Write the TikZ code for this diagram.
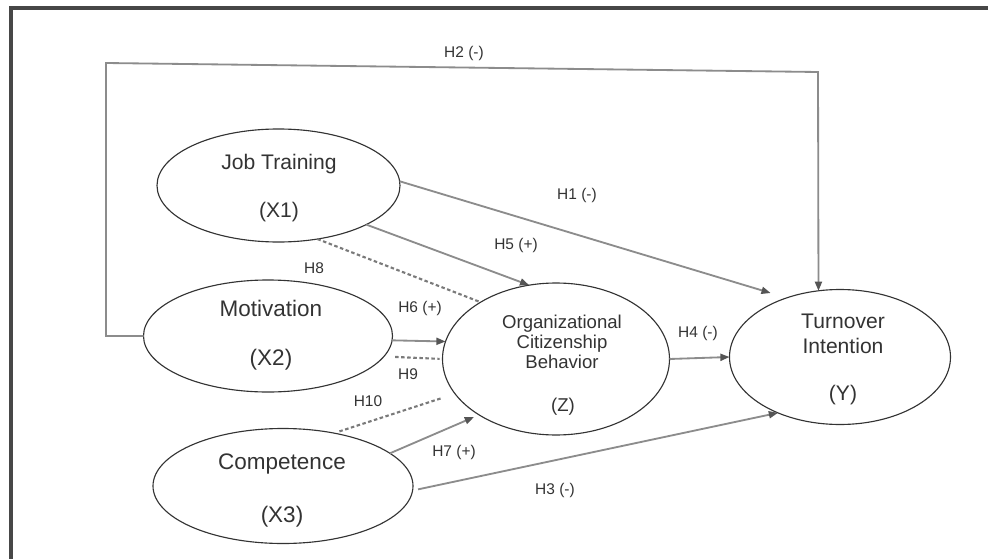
\documentclass[tikz,border=0pt]{standalone}
\usepackage{fontspec}
\setmainfont{Liberation Sans}
\usetikzlibrary{shapes.geometric,arrows.meta}
\definecolor{ink}{HTML}{333333}
\definecolor{wire}{HTML}{8C8C8C}
\definecolor{tip}{HTML}{555555}
\definecolor{dash}{HTML}{7A7A7A}
\begin{document}
\begin{tikzpicture}[x=0.025cm,y=-0.025cm,
  latent/.style={ellipse,draw=ink,line width=0.8pt,inner sep=0pt,outer sep=0pt},
  bigtxt/.style={text=ink,inner sep=0pt,font=\fontsize{15}{18}\selectfont},
  midtxt/.style={text=ink,inner sep=0pt,font=\fontsize{16}{19}\selectfont},
  ocbtxt/.style={text=ink,inner sep=0pt,align=center,font=\fontsize{13.2}{14.3}\selectfont},
  ytxt/.style={text=ink,inner sep=0pt,align=center,font=\fontsize{15}{17.8}\selectfont},
  hyp/.style={text=ink,inner sep=0pt,font=\fontsize{11}{13}\selectfont},
  path/.style={draw=wire,line width=1.3pt,-{Triangle[length=6.5pt,width=5pt,color=tip]}},
  moder/.style={draw=dash,line width=1.5pt,dash pattern=on 2.5pt off 1.8pt},
  frame/.style={draw=ink!90,line width=3pt}]
\useasboundingbox (0,0) rectangle (988,559);
\fill[white] (0,0) rectangle (988,559);
% outer frame
\draw[frame] (11,559) -- (11,8) -- (988,8);

% latent constructs
\node[latent,minimum width={243*0.025cm},minimum height={113*0.025cm}] (X1) at (278.5,185.5) {};
\node[latent,minimum width={249*0.025cm},minimum height={112*0.025cm}] (X2) at (268,336) {};
\node[latent,minimum width={260*0.025cm},minimum height={115*0.025cm}] (X3) at (283,486) {};
\node[latent,minimum width={227*0.025cm},minimum height={152*0.025cm}] (OCB) at (556,359) {};
\node[latent,minimum width={221*0.025cm},minimum height={135*0.025cm}] (Y) at (840,357) {};

% construct labels
\node[bigtxt] (X1a) at (279,164) {Job Training};
\node[bigtxt] (X1b) at (279,212) {(X1)};
\node[midtxt] (X2a) at (271,308) {Motivation};
\node[midtxt] (X2b) at (271,360) {(X2)};
\node[midtxt] (X3a) at (282,464) {Competence};
\node[midtxt] (X3b) at (282,517) {(X3)};
\node[ocbtxt] (OCBa) at (562,342) {Organizational\\Citizenship\\Behavior};
\node[ocbtxt] (OCBb) at (563,407) {(Z)};
\node[ytxt] (Ya) at (843,334) {Turnover\\Intention};
\node[ytxt] (Yb) at (843,395) {(Y)};

% H2: long path round the top
\coordinate (c1) at (106,63);
\coordinate (c2) at (818,72);
\draw[path] (X2.west) -| (c1) -- (c2) -- (Y.108);

% direct paths
\draw[path,shorten >=12pt] (X1.2) -- (Y.132);
\draw[path] (X1.-24) -- (OCB.110);
\draw[path] (X2.-2) -- (OCB.171.5);
\draw[path,shorten >=4pt] (X3.17.8) -- (OCB.216);
\draw[path,shorten <=4pt] (X3.-2.5) -- (Y.222.7);
\draw[path] (OCB.east) -- (Y.west);

% moderating paths
\draw[moder] (X1.-54) -- (OCB.143);
\draw[moder,shorten <=8pt,shorten >=2pt] (X2.-10) -- (OCB.180);
\draw[moder,shorten <=4pt,shorten >=10pt] (X3.46) -- (OCB.199);

% hypothesis labels
\node[hyp] (h2) at (464,53) {H2 (-)};
\node[hyp] (h1) at (577,195) {H1 (-)};
\node[hyp] (h5) at (516,245) {H5 (+)};
\node[hyp] (h8) at (314,268) {H8};
\node[hyp] (h6) at (420,308) {H6 (+)};
\node[hyp] (h9) at (408,374) {H9};
\node[hyp] (h10) at (368,401) {H10};
\node[hyp] (h7) at (454,452) {H7 (+)};
\node[hyp] (h3) at (555,490) {H3 (-)};
\node[hyp] (h4) at (698,333) {H4 (-)};
\end{tikzpicture}
\end{document}
